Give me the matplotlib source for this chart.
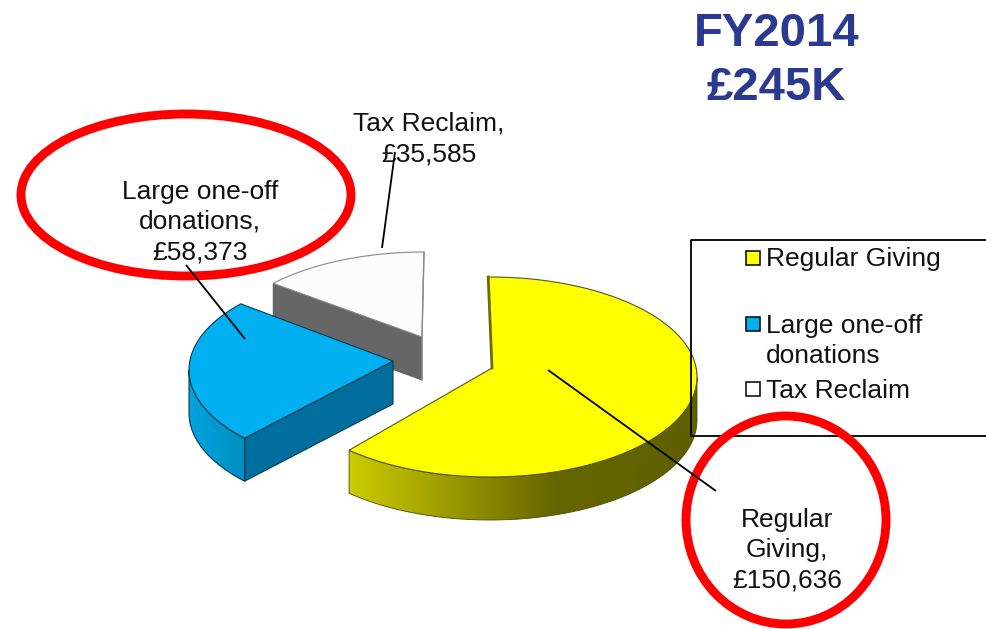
import numpy as np
import matplotlib
matplotlib.use("Agg")
import matplotlib.pyplot as plt
from matplotlib.patches import Polygon, Rectangle, Ellipse
from matplotlib.colors import LinearSegmentedColormap

plt.rcParams['font.family'] = ['Liberation Sans', 'DejaVu Sans']

# ---- data ----
categories = ["Regular Giving", "Large one-off donations", "Tax Reclaim"]
values = [150636, 58373, 35585]
data_labels = ["Regular\nGiving,\n£150,636", "Large one-off\ndonations,\n£58,373", "Tax Reclaim,\n£35,585"]
legend_labels = ["Regular Giving", "Large one-off\ndonations", "Tax Reclaim"]
title_lines = "FY2014\n£245K"

# ---- style ----
W, H = 986, 629
top_cols = ["#FFFF00", "#00B0F0", "#FCFCFC"]
edge_cols = ["#55551f", "#0b3a50", "#8a8a8a"]
ell_center = [(490, 377), (396, 370), (424, 347)]
ell_axes = [(207, 100), (207, 100), (203, 95)]
apex = [(492, 368), (393, 361), (422, 337)]
angle_shift = [(-0.5, 1.2), (5.3, 3.8), (4.4, 0.0)]
depth = 43
LS = 1.33

fig = plt.figure(figsize=(W / 100, H / 100), dpi=100)
ax = fig.add_axes([0, 0, 1, 1])
ax.set_xlim(0, W)
ax.set_ylim(H, 0)
ax.axis("off")

fractions = np.array(values) / sum(values)
ends = np.cumsum(fractions) * 360
starts = np.r_[0, ends[:-1]]


def arc(i, a0, a1, n=200):
    t = np.radians(np.linspace(a0, a1, n))
    cx, cy = ell_center[i]
    a, b = ell_axes[i]
    return np.c_[cx + a * np.sin(t), cy - b * np.cos(t)]


def sheared(pts, d=depth):
    return pts + np.array([0, d])


def gradient_fill(poly, x0, x1, colours, z):
    cmap = LinearSegmentedColormap.from_list("g", colours)
    xs = np.linspace(0, 1, 256)[None, :]
    ys = poly[:, 1]
    im = ax.imshow(xs, extent=(x0, x1, ys.max(), ys.min()), cmap=cmap, aspect="auto", zorder=z, interpolation="bilinear")
    p = Polygon(poly, closed=True, facecolor="none", edgecolor="none", transform=ax.transData)
    ax.add_patch(p)
    im.set_clip_path(p)


def top_face(i, z):
    a0 = starts[i] + angle_shift[i][0]
    a1 = ends[i] + angle_shift[i][1]
    pts = np.vstack([[apex[i]], arc(i, a0, a1)])
    ax.add_patch(Polygon(pts, closed=True, facecolor=top_cols[i], edgecolor=edge_cols[i], linewidth=0.8, zorder=z))
    return a0, a1


# ---- tax reclaim (furthest back) ----
i = 2
a0, a1 = starts[i] + angle_shift[i][0], ends[i] + angle_shift[i][1]
corner = arc(i, a0, a0, 1)[0]
wall = np.array([corner, apex[i], sheared(np.array(apex[i])), sheared(corner)])
ax.add_patch(Polygon(wall, closed=True, facecolor="#666666", edgecolor="#555555", linewidth=0.6, zorder=2))
top_face(i, 3)
corner_r = arc(i, a1, a1, 1)[0]
ax.plot([corner_r[0], apex[i][0], apex[i][0]], [corner_r[1], apex[i][1], apex[i][1] + depth], color="#8a8a8a", lw=1.0, zorder=3)

# ---- large one-off donations ----
i = 1
a0, a1 = starts[i] + angle_shift[i][0], ends[i] + angle_shift[i][1]
corner = arc(i, a0, a0, 1)[0]
wall = np.array([corner, apex[i], sheared(np.array(apex[i])), sheared(corner)])
ax.add_patch(Polygon(wall, closed=True, facecolor="#006F9E", edgecolor="#0b3a50", linewidth=0.8, zorder=5))
outer = arc(i, a0, 270)
side = np.vstack([outer, sheared(outer)[::-1]])
gradient_fill(side, 189, corner[0], ["#00A4DE", "#008FC2"], 5)
ax.add_patch(Polygon(side, closed=True, facecolor="none", edgecolor="#0b3a50", linewidth=0.8, zorder=5.5))
top_face(i, 6)

# ---- regular giving ----
i = 0
a0, a1 = starts[i] + angle_shift[i][0], ends[i] + angle_shift[i][1]
outer = arc(i, 90, a1)
side = np.vstack([outer, sheared(outer)[::-1]])
cmap_stops = [(0.0, "#CCCC00"), (0.59, "#666600"), (1.0, "#5F5F00")]
gradient_fill(side, outer[:, 0].min(), outer[:, 0].max(), cmap_stops, 7)
ax.add_patch(Polygon(side, closed=True, facecolor="none", edgecolor="#4a4a10", linewidth=0.6, zorder=7.5))
top_face(i, 8)
corner = arc(i, a0, a0, 1)[0]
ax.plot([corner[0], apex[i][0]], [corner[1], apex[i][1]], color="#6b6b00", lw=2.0, zorder=8)

# ---- leader lines ----
leaders = [((548, 370), (716, 491)), ((245, 339), (186, 265)), ((382, 248), (395, 152))]
for p, q in leaders:
    ax.plot([p[0], q[0]], [p[1], q[1]], color="black", lw=1.3, zorder=11, solid_capstyle="butt")

# ---- legend ----
ax.plot([W, 690.5, 690.5, W], [239.5, 239.5, 436, 436], color="black", lw=1.3, zorder=10)
legend_y = [258, 324, 389]
for y, col in zip(legend_y, top_cols):
    ax.add_patch(Rectangle((745.5, y - 7), 14, 14, facecolor=col if col != "#FCFCFC" else "white", edgecolor="black", linewidth=1.1, zorder=12))
ax.text(766, legend_y[0] + 1, legend_labels[0], fontsize=19, va="center", ha="left", zorder=13, color="#111111")
ax.text(766, 341, legend_labels[1], fontsize=19, va="center", ha="left", zorder=13, color="#111111", linespacing=LS)
ax.text(766, legend_y[2] + 2, legend_labels[2], fontsize=19, va="center", ha="left", zorder=13, color="#111111")

# ---- red highlight ellipses ----
ax.add_patch(Ellipse((186, 195), 330, 162, facecolor="none", edgecolor="#FF0000", linewidth=6.4, zorder=10.5))
ax.add_patch(Ellipse((786, 520), 200, 208, facecolor="none", edgecolor="#FF0000", linewidth=6.4, zorder=10.5))

# ---- data labels ----
ax.text(787, 550, data_labels[0], fontsize=19, ha="center", va="center", linespacing=LS, zorder=14, color="#111111")
ax.text(200, 222, data_labels[1], fontsize=19, ha="center", va="center", linespacing=LS, zorder=14, color="#111111")
ax.text(429, 139, data_labels[2], fontsize=19, ha="center", va="center", linespacing=LS, zorder=14, color="#111111")

# ---- title ----
ax.text(776.5, 61, title_lines, fontsize=34, fontweight="bold", color="#2B3990", ha="center", va="center", linespacing=1.27, zorder=14)

fig.savefig("out.png", dpi=100)
